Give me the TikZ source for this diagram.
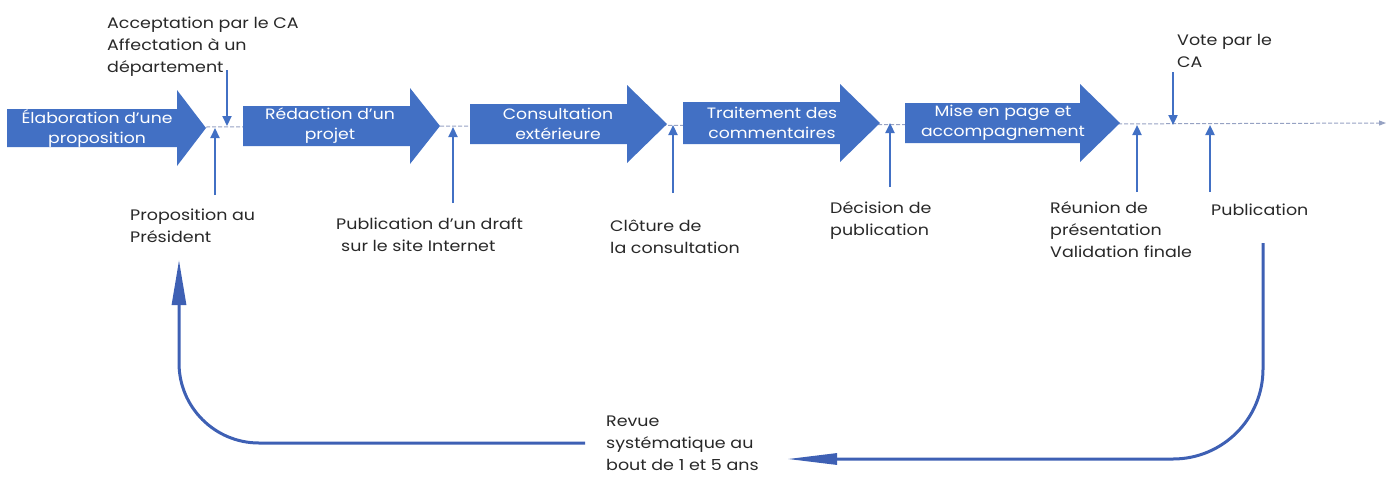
\documentclass[tikz,border=0pt]{standalone}
\usepackage{fontspec}
\setmainfont{Poppins}
\newfontfamily\labfont[FakeStretch=1.15]{Poppins}
\usetikzlibrary{arrows.meta}
\definecolor{mainblue}{RGB}{66,112,196}
\definecolor{loopblue}{RGB}{62,96,180}
\definecolor{tline}{RGB}{150,162,195}
\definecolor{labtext}{RGB}{40,40,40}
\tikzset{
  bigbody/.style={fill=mainblue, draw=none},
  bigtext/.style={text=white, font=\labfont\fontsize{15}{20}\selectfont, align=center, inner sep=0pt},
  lab/.style={text=labtext, font=\labfont\fontsize{15.2}{22}\selectfont, align=left, anchor=north west, inner sep=0pt},
  pin/.style={draw=mainblue, line width=2.2pt, -{Triangle[length=10pt,width=9pt]}},
  loop/.style={draw=loopblue, line width=3pt},
  timeline/.style={draw=tline, line width=1pt, dash pattern=on 4pt off 2pt, -{Triangle[length=7pt,width=5pt]}}
}
\newcommand{\BigArr}[9]{%
  % #1 name, #2 x0, #3 x1, #4 tip, #5 yc, #6 body half, #7 head half, #8 text x, #9 text
  \fill[bigbody] (#2,#5-#6) -- (#3,#5-#6) -- (#3,#5-#7) -- (#4,#5) -- (#3,#5+#7) -- (#3,#5+#6) -- (#2,#5+#6) -- cycle;
  \node[bigtext] (#1) at (#8,#5) {#9};
}
\begin{document}
\begin{tikzpicture}[x=1pt,y=-1pt]
\useasboundingbox (0,0) rectangle (1388,477);
% timeline
\coordinate (tstart) at (206,127);
\coordinate (tend) at (1386,123);
\draw[timeline] (tstart) -- (tend);
% big arrows
\BigArr{a1}{7}{177}{206}{128}{19}{38}{97}{Élaboration d’une\\proposition}
\BigArr{a2}{243}{410}{440}{126}{20}{38}{330}{Rédaction d’un\\projet}
\BigArr{a3}{470}{627}{667}{124}{20}{39}{558}{Consultation\\extérieure}
\BigArr{a4}{683}{840}{880}{123}{21}{39}{772}{Traitement des\\commentaires}
\BigArr{a5}{905}{1080}{1120}{123}{20}{39}{1003}{Mise en page et\\accompagnement}
% labels
\node[lab] (accept) at (107,17) {Acceptation par le CA\\Affectation à un\\département};
\node[lab] (propo) at (130,209) {Proposition au\\Président};
\node[lab] (draft) at (336,218) {Publication d’un draft\\\hspace*{5pt}sur le site Internet};
\node[lab] (cloture) at (610,220) {Clôture de\\la consultation};
\node[lab] (decision) at (830,201) {Décision de\\publication};
\node[lab] (reunion) at (1050,201) {Réunion de\\présentation\\Validation finale};
\node[lab] (publi) at (1211,204) {Publication};
\node[lab] (vote) at (1177,34) {Vote par le\\CA};
\node[lab] (revue) at (606,416) {Revue\\systématique au\\bout de 1 et 5 ans};
% pins
\coordinate (acc0) at (227,70);  \coordinate (acc1) at (227,126);
\coordinate (pro0) at (215,195); \coordinate (pro1) at (215,128);
\coordinate (dra0) at (453,203); \coordinate (dra1) at (453,127);
\coordinate (clo0) at (673,193); \coordinate (clo1) at (673,125);
\coordinate (dec0) at (890,187); \coordinate (dec1) at (890,123);
\coordinate (reu0) at (1137,192); \coordinate (reu1) at (1137,125);
\coordinate (vot0) at (1173,72); \coordinate (vot1) at (1173,125);
\coordinate (pub0) at (1210,192); \coordinate (pub1) at (1210,125);
\draw[pin] (acc0) -- (acc1);
\draw[pin] (pro0) -- (pro1);
\draw[pin] (dra0) -- (dra1);
\draw[pin] (clo0) -- (clo1);
\draw[pin] (dec0) -- (dec1);
\draw[pin] (reu0) -- (reu1);
\draw[pin] (vot0) -- (vot1);
\draw[pin] (pub0) -- (pub1);
% return loops
\coordinate (r0) at (1263,243);
\coordinate (r1) at (1263,459);
\coordinate (r2) at (787,459);
\draw[loop, rounded corners=90pt, -{Triangle[length=50pt,width=11pt]}] (r0) -- (r1) -- (r2);
\coordinate (l0) at (585,443);
\coordinate (l1) at (179,443);
\coordinate (l2) at (179,260);
\draw[loop, rounded corners=80pt, -{Triangle[length=45pt,width=14pt]}] (l0) -- (l1) -- (l2);
\end{tikzpicture}
\end{document}
